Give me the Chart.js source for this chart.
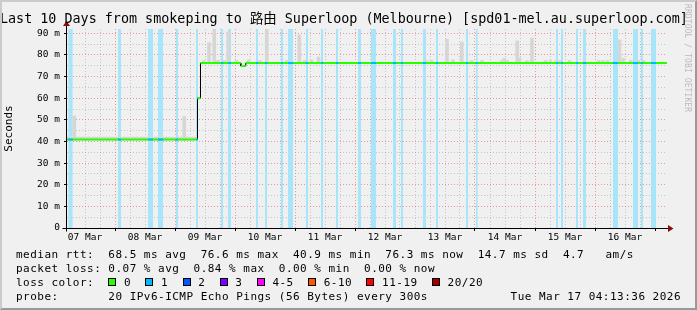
<!DOCTYPE html>
<html>
<head>
<meta charset="utf-8">
<script src="https://cdn.jsdelivr.net/npm/chart.js@4/dist/chart.umd.min.js"></script>
<style>
  html, body { margin: 0; padding: 0; }
  body { width: 697px; height: 310px; background: #f0f0f0; position: relative; overflow: hidden; }
  #chart { position: absolute; left: 0; top: 0; }
  #frame { position: absolute; left: 0; top: 0; width: 697px; height: 310px; box-sizing: border-box;
           border-top: 2px solid #cbcbcb; border-left: 2px solid #cbcbcb;
           border-right: 2px solid #999; border-bottom: 2px solid #999; pointer-events: none; }
  .txt { position: absolute; white-space: pre; color: #000; font-family: "DejaVu Sans Mono", monospace; }
  .title { left: 0; top: 11.4px; font-size: 13.4px; line-height: 16px;
           font-family: "DejaVu Sans Mono", "Noto Sans CJK SC", monospace; }
  .row { left: 16px; font-size: 11px; line-height: 14px; letter-spacing: 0.48px; }
  .swatch { position: absolute; top: 278px; width: 8px; height: 8px; box-sizing: border-box; border: 1px solid #000; }
  .mark { position: absolute; top: 4px; left: 683px; writing-mode: vertical-rl; font-family: "DejaVu Sans Mono", monospace;
          font-size: 8px; letter-spacing: 0.1px; color: #bbb; white-space: pre; }
</style>
</head>
<body>
<canvas id="chart" width="697" height="310"></canvas>
<div class="txt title">Last 10 Days from smokeping to 路由 Superloop (Melbourne) [spd01-mel.au.superloop.com]</div>
<div class="txt row" style="top:247.5px">median rtt:  68.5 ms avg  76.6 ms max  40.9 ms min  76.3 ms now  14.7 ms sd  4.7   am/s</div>
<div class="txt row" style="top:261.5px">packet loss: 0.07 % avg  0.84 % max  0.00 % min  0.00 % now</div>
<div class="txt row" style="top:275.5px">loss color:</div>
<div id="lossLegend"></div>
<div class="txt row" style="top:289.5px">probe:       20 IPv6-ICMP Echo Pings (56 Bytes) every 300s</div>
<div class="txt row" style="top:289.5px; left:auto; right:16px; letter-spacing:0.48px">Tue Mar 17 04:13:36 2026</div>
<div class="mark">RRDTOOL / TOBI OETIKER</div>
<div id="frame"></div>
<script>
// x axis runs in hours from the left edge of the graph (07 Mar 04:48)
const dayLabels = ['07 Mar', '08 Mar', '09 Mar', '10 Mar', '11 Mar', '12 Mar', '13 Mar', '14 Mar', '15 Mar', '16 Mar'];
const yTickLabels = ['0', '10 m', '20 m', '30 m', '40 m', '50 m', '60 m', '70 m', '80 m', '90 m'];

// median rtt (ms), as steps
const medianStart = [0, 52.2, 53.4, 69.5, 71.5];
const medianEnd = [52.2, 53.4, 69.5, 71.5, 240];
const medianRtt = [40.9, 60.0, 76.3, 74.9, 76.3];

// hours with 1/20 packet loss
const lossStart = [0.5, 20.4, 32.4, 36.4, 43.5, 51.6, 61.6, 64.4, 75.6, 79.2, 85.5, 88.4, 95.5, 101.6, 107.6, 116.4,
    121.6, 130.4, 133.5, 142.4, 147.6, 159.6, 163.5, 195.6, 197.6, 203.6, 206.4, 218.4, 226.4, 229.5, 233.6];
const lossEnd = [2.3, 21.6, 34.4, 38.4, 44.4, 52.4, 62.5, 65.6, 76.4, 80.1, 86.4, 90.5, 96.5, 102.5, 108.5, 117.6,
    123.6, 131.7, 134.4, 143.6, 148.5, 160.4, 164.3, 196.5, 198.4, 204.4, 207.6, 220.4, 228.4, 230.4, 235.6];

// smoke (highest ping of the hour, ms)
const smokeHour = [2.9, 46.9, 56.8, 58.9, 64.5, 72.6, 79.9, 92.9, 97.8, 100.6, 152.0, 154.4, 157.9, 174.9, 180.1,
    181.0, 186.0, 221.0, 222.4,
    54.8, 60.4, 63.0, 67.8, 77.2, 87.8, 95.0, 143.8, 145.8, 161.8, 166.0, 173.8, 176.0, 184.0, 191.4, 193.4,
    195.6, 197.2, 201.0, 207.0, 212.6, 214.4, 216.2, 225.5, 228.5, 230.6];
const smokeTop = [51.8, 51.5, 85.7, 95.0, 90.6, 77.7, 95.0, 89.2, 77.7, 79.1, 87.3, 77.7, 86.0, 78.4, 86.5,
    78.7, 87.8, 87.0, 78.4,
    77.4, 77.5, 77.4, 77.4, 77.4, 77.4, 77.4, 77.4, 77.4, 77.4, 77.4, 77.4, 77.4, 77.4, 77.4, 77.4,
    77.4, 77.4, 77.5, 77.8, 77.4, 77.4, 77.4, 77.6, 77.5, 77.5];
// low-latency smoke band in the first two days
const bandStart = [0];
const bandEnd = [52.2];
const bandTop = [42.2];

const lossLabels = ['0', '1', '2', '3', '4-5', '6-10', '11-19', '20/20'];
const lossColors = ['#26ff00', '#00b8ff', '#0059ff', '#7e00ff', '#ff00ff', '#ff5500', '#ff0000', '#a10000'];

const yMax = 92;
const majorGrid = 'rgba(220,40,40,0.42)';
const minorGrid = 'rgba(128,128,128,0.38)';
const tickFont = { family: "'DejaVu Sans Mono', monospace", size: 9.5 };

function medianAt(h) {
    for (let i = 0; i < medianStart.length; i++) {
        if (h >= medianStart[i] && h < medianEnd[i]) return medianRtt[i];
    }
    return medianRtt[medianRtt.length - 1];
}

// legend swatches for loss colours
(function buildLossLegend() {
    const box = document.getElementById('lossLegend');
    let x = 108.3;
    lossLabels.forEach((lab, i) => {
        const sw = document.createElement('div');
        sw.className = 'swatch';
        sw.style.left = x + 'px';
        sw.style.background = lossColors[i];
        box.appendChild(sw);
        const t = document.createElement('div');
        t.className = 'txt row';
        t.style.left = (x + 15.7) + 'px';
        t.style.top = '275.5px';
        t.textContent = lab;
        box.appendChild(t);
        x += lab.length * 7.1 + 30;
    });
})();

// datasets built from the arrays above
const stripeData = [];
lossStart.forEach((s, i) => {
    stripeData.push({ x: s, y: yMax }, { x: lossEnd[i], y: yMax }, { x: lossEnd[i], y: null });
});

const greenData = [];
const blackData = [];
medianStart.forEach((s, i) => {
    greenData.push({ x: s, y: medianRtt[i] }, { x: medianEnd[i], y: medianRtt[i] }, { x: medianEnd[i], y: null });
    blackData.push({ x: s, y: medianRtt[i] }, { x: medianEnd[i], y: medianRtt[i] });
});

const blueData = [];
lossStart.forEach((s, i) => {
    medianStart.forEach((ms, j) => {
        const a = Math.max(s, ms), b = Math.min(lossEnd[i], medianEnd[j]);
        if (b > a) blueData.push({ x: a, y: medianRtt[j] }, { x: b, y: medianRtt[j] }, { x: b, y: null });
    });
});

const bandData = [];
bandStart.forEach((s, i) => {
    bandData.push({ x: s, y: bandTop[i] }, { x: bandEnd[i], y: bandTop[i] }, { x: bandEnd[i], y: null });
});

const smokeData = smokeHour.map((h, i) => ({ x: h, y: [medianAt(h) - 0.3, smokeTop[i]] }));

// x grid every 6 hours, midnight lines are the major ones
const xGrid = [];
for (let h = 1.2; h < 240; h += 6) xGrid.push(Math.round(h * 10) / 10);
const isMidnight = v => Math.abs(((v - 19.2) % 24 + 24) % 24) < 0.01;
const isNoon = v => Math.abs(((v - 7.2) % 24 + 24) % 24) < 0.01;
const yGrid = [];
for (let v = 0; v <= 90; v += 5) yGrid.push(v);

const axesArrows = {
    id: 'axesArrows',
    afterDatasetsDraw(chart) {
        const { ctx, chartArea: a } = chart;
        const x0 = Math.round(a.left) - 0.5, y0 = Math.round(a.bottom) + 0.5;
        ctx.save();
        ctx.strokeStyle = '#000';
        ctx.lineWidth = 1;
        ctx.beginPath();
        ctx.moveTo(x0 - 4, y0); ctx.lineTo(a.right + 2, y0);
        ctx.moveTo(x0, y0 + 3); ctx.lineTo(x0, a.top - 3);
        ctx.stroke();
        ctx.fillStyle = '#8b0a0a';
        ctx.beginPath();
        ctx.moveTo(a.right + 1, y0 - 3.5); ctx.lineTo(a.right + 6.5, y0); ctx.lineTo(a.right + 1, y0 + 3.5);
        ctx.fill();
        ctx.beginPath();
        ctx.moveTo(x0 - 3.5, a.top - 3); ctx.lineTo(x0, a.top - 8); ctx.lineTo(x0 + 3.5, a.top - 3);
        ctx.fill();
        ctx.restore();
    }
};

const ctx = document.getElementById('chart').getContext('2d');
window.chart = new Chart(ctx, {
    type: 'line',
    data: {
        datasets: [
            { type: 'line', data: stripeData, order: 6, borderWidth: 0, pointRadius: 0,
              backgroundColor: '#a8e5fb', fill: 'origin', spanGaps: false },
            { type: 'bar', data: smokeData, order: 5, barThickness: 3, backgroundColor: '#d6d6d6',
              borderWidth: 0 },
            { type: 'line', data: bandData, order: 4, borderWidth: 0, pointRadius: 0,
              backgroundColor: '#d6d6d6', fill: { value: 40.9 }, spanGaps: false },
            { type: 'line', data: blackData, order: 3, borderWidth: 1, borderColor: '#000', pointRadius: 0, fill: false },
            { type: 'line', data: greenData, order: 2, borderWidth: 2, borderColor: lossColors[0], pointRadius: 0,
              fill: false, spanGaps: false, borderCapStyle: 'butt' },
            { type: 'line', data: blueData, order: 1, borderWidth: 2, borderColor: lossColors[1], pointRadius: 0,
              fill: false, spanGaps: false, borderCapStyle: 'butt' }
        ]
    },
    options: {
        responsive: false,
        animation: false,
        devicePixelRatio: 1,
        layout: { padding: { left: 0, top: 29, right: 30, bottom: 62 } },
        plugins: { legend: { display: false }, tooltip: { enabled: false } },
        scales: {
            x: {
                type: 'linear', min: 0, max: 240, offset: false,
                afterBuildTicks: s => { s.ticks = xGrid.map(v => ({ value: v })); },
                afterFit: s => { s.height = 20; },
                grid: {
                    offset: false,
                    color: c => (c.tick && isMidnight(c.tick.value)) ? majorGrid : minorGrid,
                    tickLength: 3,
                    tickColor: c => (c.tick && isMidnight(c.tick.value)) ? '#000' : 'rgba(0,0,0,0)'
                },
                border: { display: false, dash: [1, 2] },
                ticks: {
                    autoSkip: false, maxRotation: 0, padding: 1, color: '#000', font: tickFont,
                    callback: v => isNoon(v) ? dayLabels[Math.round((v - 7.2) / 24)] : ''
                }
            },
            y: {
                min: 0, max: yMax,
                afterBuildTicks: s => { s.ticks = yGrid.map(v => ({ value: v })); },
                afterFit: s => { s.width = 67; },
                grid: {
                    color: c => (c.tick && c.tick.value % 10 === 0) ? majorGrid : minorGrid,
                    tickLength: 3,
                    tickColor: c => (c.tick && c.tick.value % 10 === 0) ? '#000' : 'rgba(0,0,0,0)'
                },
                border: { display: false, dash: [1, 2] },
                ticks: {
                    autoSkip: false, padding: 4, color: '#000', font: tickFont,
                    callback: v => v % 10 === 0 ? yTickLabels[v / 10] : ''
                },
                title: {
                    display: true, text: 'Seconds', color: '#000',
                    font: { family: "'DejaVu Sans Mono', monospace", size: 11 },
                    padding: { top: 3, bottom: 0 }
                }
            }
        }
    },
    plugins: [axesArrows]
});
</script>
</body>
</html>
